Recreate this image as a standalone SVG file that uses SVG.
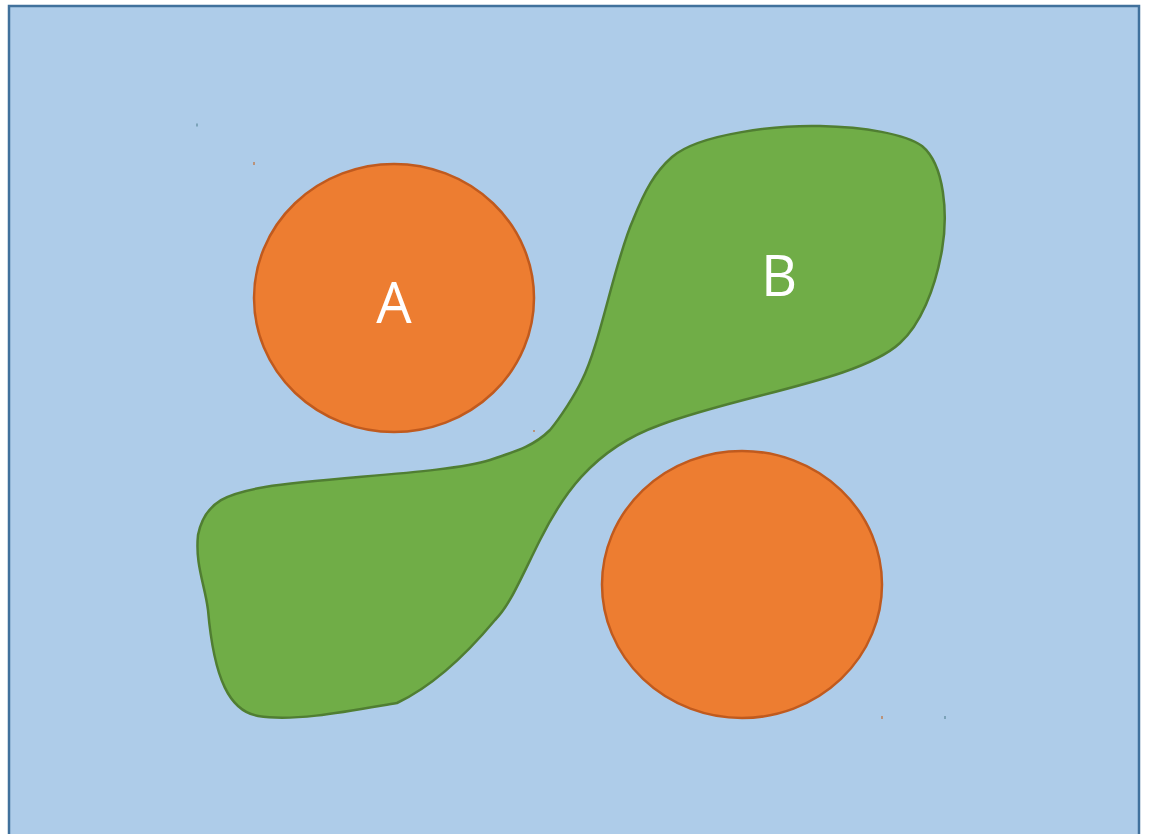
<svg xmlns="http://www.w3.org/2000/svg" width="1150" height="834" viewBox="0 0 1150 834">
<style>
.bg{fill:#aecce9;stroke:#41719c;stroke-width:2.5}
.circ{fill:#ed7d31;stroke:#c05a1e;stroke-width:2.5}
.blob{fill:#70ad47;stroke:#507e32;stroke-width:2.5}
.lbl{fill:#ffffff;font-family:"Open Sans","Noto Sans",sans-serif;font-size:56px;text-anchor:middle}
.tick-o{fill:#c55a11}
.tick-g{fill:#4a7a8a}
</style>
<rect class="bg" x="9" y="6" width="1130" height="840"/>
<g id="blobB">
<path class="blob" d="M 672,157 C 700,133 780,125 820,126 C 865,127 905,134 922,146 C 945,165 948,215 942,250 C 935,290 920,325 900,343 C 860,380 740,395 660,425 C 590,450 560,500 540,540 C 520,580 510,605 495,620 C 470,650 435,685 397,703 C 350,711 295,722 258,716 C 230,711 214,680 208,610 C 205,585 195,565 198,535 C 205,500 230,493 265,487 C 330,477 450,473 490,460 C 520,450 535,445 550,430 C 560,418 575,395 582,380 C 600,345 615,260 633,220 C 645,190 655,172 672,157 Z"/>
<text class="lbl" x="779" y="296">B</text>
</g>
<g id="circleA">
<ellipse class="circ" cx="394" cy="298" rx="140" ry="134"/>
<text class="lbl" x="394" y="323">A</text>
</g>
<g id="circle2">
<ellipse class="circ" cx="742" cy="584.5" rx="140" ry="133.5"/>
</g>
<g id="marks">
<rect class="tick-g" x="196.5" y="123.5" width="1" height="3"/>
<rect class="tick-o" x="253.5" y="162" width="1" height="3"/>
<rect class="tick-o" x="533.5" y="430" width="1" height="2"/>
<rect class="tick-o" x="881.5" y="716" width="1" height="3"/>
<rect class="tick-g" x="944.5" y="716" width="1" height="3"/>
</g>
</svg>
